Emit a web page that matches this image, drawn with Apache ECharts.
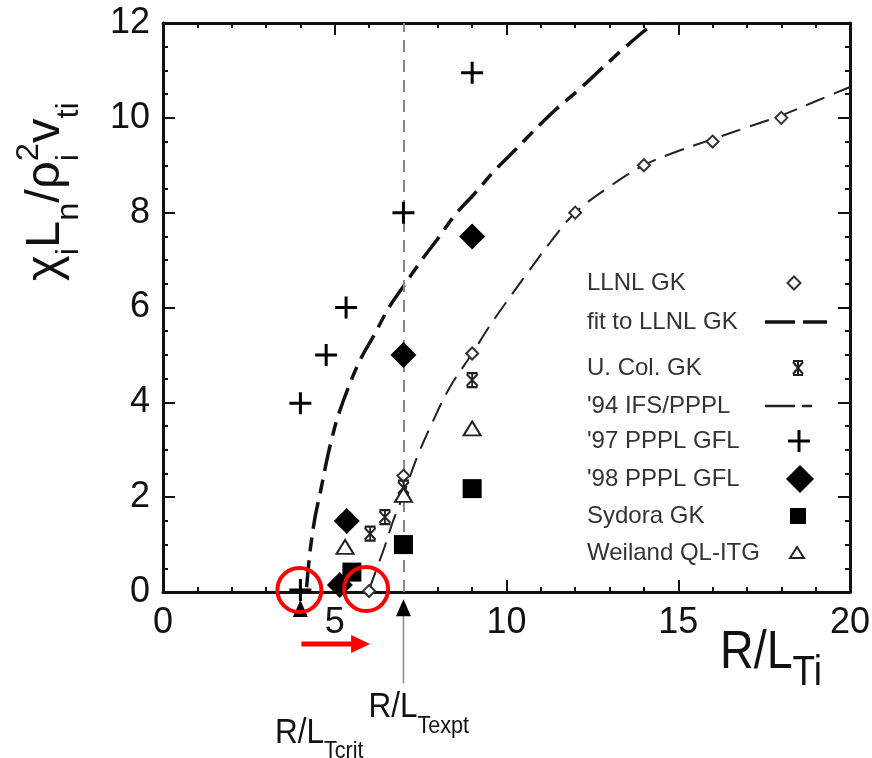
<!DOCTYPE html>
<html><head><meta charset="utf-8">
<script src="https://cdn.jsdelivr.net/npm/echarts@6/dist/echarts.min.js"></script>
<style>html,body{margin:0;padding:0;background:#fff}#c{width:872px;height:758px}</style>
</head><body><div id="c"></div>
<script>
// ---------------- data ----------------
const llnlGK    = [[6,0.02],[7,2.45],[9,5.03],[12,8.0],[14,9.0],[16,9.5],[18,10.0]];
const fitLLNL   = [[4.18,0.1],[4.28,0.85],[4.42,1.55],[4.58,2.1],[4.76,2.75],[4.92,3.25],[5.1,3.72],[5.39,4.3],[5.73,4.88],[6.17,5.45],[6.56,5.98],[7.05,6.5],[7.53,7.0],[8.01,7.46],[8.5,7.95],[9.08,8.41],[9.67,8.9],[10.25,9.32],[10.69,9.65],[11.41,10.16],[12.04,10.55],[12.67,10.97],[13.3,11.39],[13.97,11.81],[14.3,12.0]];
const uColGK    = [[6.03,1.23],[6.46,1.58],[7,2.2],[9,4.47]];
const ifsPPPL94 = [[6.0,0.05],[6.2,0.45],[6.45,0.95],[6.7,1.5],[7.0,2.05],[7.4,2.85],[7.87,3.62],[8.36,4.33],[9.0,5.03],[9.5,5.6],[10.0,6.12],[10.6,6.72],[11.3,7.4],[12.0,8.0],[13.0,8.55],[14.0,9.0],[15.0,9.3],[16.0,9.55],[17.0,9.8],[18.0,10.05],[19.0,10.35],[20.0,10.65]];
const ppplGFL97 = [[4,0.04],[4,3.98],[4.75,5.0],[5.33,6.0],[7,8.0],[9,10.95]];
const ppplGFL98 = [[5.15,0.15],[5.35,1.5],[7,5.0],[9,7.5]];
const sydoraGK  = [[5.5,0.42],[7,1.0],[9,2.18]];
const weilandQL = [[5.3,0.95],[7,2.05],[9,3.45]];
const thresholdMarks = [[4,-0.35],[7,-0.33]];   // R/L_Tcrit , R/L_Texpt pointers
const exptDrop  = [[7,-0.3],[7,-1.93]];
const exptLineX = 7;
const circledPoints = [[4,0],[6,0]];
const xRange = [0,20], xStep = 5;
const yRange = [0,12], yStep = 2;
const legendNames = ['LLNL GK','fit to LLNL GK','U. Col. GK',"'94 IFS/PPPL","'97 PPPL GFL","'98 PPPL GFL",'Sydora GK','Weiland QL-ITG'];

// ---------------- helpers ----------------
const FONT = '"Liberation Sans", Arial, sans-serif';
const cv = document.createElement('canvas').getContext('2d');
function tw(t, fs){ cv.font = fs + 'px ' + FONT; return cv.measureText(t).width; }
function textRun(id, pieces, x, y, rot, sx){
  let cx = 0; const ch = [];
  pieces.forEach(p => {
    ch.push({type:'text', x:cx, y:(p.dy||0) - 0.3465*p.fs, silent:true,
      style:{text:p.t, font:p.fs+'px '+FONT, fill:'#111', align:'left', verticalAlign:'middle', textAlign:'left', textVerticalAlign:'middle'}});
    if(!p.hold) cx += tw(p.t, p.fs);
  });
  return {type:'group', id:id, x:x, y:y, rotation:rot||0, scaleX:sx||1, children:ch};
}
function seg(x1,y1,x2,y2,color,w){ return {type:'line', shape:{x1:x1,y1:y1,x2:x2,y2:y2}, style:{stroke:color, lineWidth:w}}; }

const axisCommon = (interval, split, showLabel, pos) => ({
  type:'value', position:pos, interval:interval,
  axisLine:{show:true, onZero:false, lineStyle:{color:'#111', width:3}},
  axisTick:{show:true, inside:true, length:12, lineStyle:{color:'#111', width:2}},
  minorTick:{show:true, splitNumber:split, length:5, lineStyle:{color:'#111', width:2}},
  splitLine:{show:false},
  axisLabel:{show:showLabel, fontSize:36, fontFamily:FONT, color:'#111', margin:13}
});
const xB = Object.assign(axisCommon(xStep,5,true,'bottom'), {min:xRange[0], max:xRange[1]});
const xT = Object.assign(axisCommon(xStep,5,false,'top'), {min:xRange[0], max:xRange[1]});
const yL = Object.assign(axisCommon(yStep,4,true,'left'), {min:yRange[0], max:yRange[1]});
const yR = Object.assign(axisCommon(yStep,4,false,'right'), {min:yRange[0], max:yRange[1]});

const plusPath = 'path://M5,0L5,10M0,5L10,5';
const starPath = 'path://M0,0L10,0M0,12L10,12M5,0L5,12M0,1L10,11M0,11L10,1';

const chart = echarts.init(document.getElementById('c'), null, {renderer:'canvas'});
chart.setOption({
  animation:false,
  backgroundColor:'#fff',
  grid:{left:163, right:22, top:23, bottom:166, containLabel:false, outerBoundsMode:'none'},
  xAxis:[xB, xT],
  yAxis:[yL, yR],
  series:[
    {name:legendNames[1], type:'line', data:fitLLNL, symbol:'none', smooth:0.35, z:2,
      lineStyle:{color:'#111', width:3.5, type:[27,9,14,9]}},
    {name:legendNames[3], type:'line', data:ifsPPPL94, symbol:'none', smooth:0.35, z:2,
      lineStyle:{color:'#222', width:2, type:[20,10]}},
    {name:'thresholds', type:'scatter', data:thresholdMarks, symbol:'triangle', symbolSize:[15,17], clip:false, silent:true, z:3,
      itemStyle:{color:'#000', opacity:1},
      markLine:{silent:true, symbol:'none', label:{show:false}, lineStyle:{color:'#888', width:2, type:[12,8]}, data:[{xAxis:exptLineX}]}},
    {name:'drop', type:'line', data:exptDrop, symbol:'none', clip:false, silent:true, lineStyle:{color:'#888', width:1.5}},
    {name:legendNames[0], type:'scatter', data:llnlGK, symbol:'diamond', symbolSize:12, clip:false, z:5,
      itemStyle:{color:'#fff', borderColor:'#333', borderWidth:2, opacity:1}},
    {name:legendNames[2], type:'scatter', data:uColGK, symbol:starPath, symbolSize:[11,14], clip:false, z:5,
      itemStyle:{color:'#222', borderColor:'#222', borderWidth:2, opacity:1}},
    {name:legendNames[4], type:'scatter', data:ppplGFL97, symbol:plusPath, symbolSize:22, clip:false, z:5,
      itemStyle:{color:'#000', borderColor:'#000', borderWidth:3, opacity:1}},
    {name:legendNames[5], type:'scatter', data:ppplGFL98, symbol:'diamond', symbolSize:26, clip:false, z:5,
      itemStyle:{color:'#000', opacity:1}},
    {name:legendNames[6], type:'scatter', data:sydoraGK, symbol:'rect', symbolSize:19, clip:false, z:5,
      itemStyle:{color:'#000', opacity:1}},
    {name:legendNames[7], type:'scatter', data:weilandQL, symbol:'triangle', symbolSize:[17,14], clip:false, z:5,
      itemStyle:{color:'#fff', borderColor:'#222', borderWidth:2, opacity:1}}
  ]
});

// ---------------- legend (drawn as graphic, text left, key on the right) ----------------
const ky = [283, 322, 368, 406, 441, 479, 516, 553];
const LX = 587, KX = 798;
const leg = [];
legendNames.forEach((n, i) => {
  leg.push({type:'text', x:LX, y:ky[i], silent:true,
    style:{text:n, font:'24px '+FONT, fill:'#333', align:'left', verticalAlign:'middle', textAlign:'left', textVerticalAlign:'middle'}});
});
const dia = (cx, cy, w, h) => [[cx, cy-h/2],[cx+w/2, cy],[cx, cy+h/2],[cx-w/2, cy]];
leg.push({type:'polygon', shape:{points:dia(KX-4, ky[0], 13, 13)}, style:{fill:'#fff', stroke:'#333', lineWidth:2}});
leg.push(seg(765, ky[1], 795, ky[1], '#111', 3.5));
leg.push(seg(803, ky[1], 827, ky[1], '#111', 3.5));
// asterisk key
leg.push(seg(KX-5, ky[2]-7, KX+5, ky[2]-7, '#222', 2));
leg.push(seg(KX-5, ky[2]+7, KX+5, ky[2]+7, '#222', 2));
leg.push(seg(KX, ky[2]-7, KX, ky[2]+7, '#222', 2));
leg.push(seg(KX-5, ky[2]-6, KX+5, ky[2]+6, '#222', 2));
leg.push(seg(KX-5, ky[2]+6, KX+5, ky[2]-6, '#222', 2));
leg.push(seg(765, ky[3], 795, ky[3], '#222', 2.5));
leg.push(seg(802, ky[3], 812, ky[3], '#222', 2.5));
// plus key
leg.push(seg(KX+1, ky[4]-11, KX+1, ky[4]+11, '#000', 3));
leg.push(seg(KX-10, ky[4], KX+12, ky[4], '#000', 3));
leg.push({type:'polygon', shape:{points:dia(KX+2, ky[5], 28, 28)}, style:{fill:'#000'}});
leg.push({type:'rect', shape:{x:KX-8, y:ky[6]-8, width:16, height:16}, style:{fill:'#000'}});
leg.push({type:'polygon', shape:{points:[[KX-1, ky[7]-6],[KX+6, ky[7]+5],[KX-8, ky[7]+5]]}, style:{fill:'#fff', stroke:'#222', lineWidth:2}});

// ---------------- annotations anchored on data coordinates ----------------
const pA = chart.convertToPixel({gridIndex:0}, circledPoints[0]);
const pB = chart.convertToPixel({gridIndex:0}, circledPoints[1]);
const pE = chart.convertToPixel({gridIndex:0}, [exptLineX, 0]);
const arrowY = pA[1] + 52;
chart.setOption({
  graphic:[
    {type:'group', id:'legend', silent:true, children:leg},
    {type:'circle', shape:{cx:pA[0]-1, cy:pA[1]-2, r:22}, style:{fill:'none', stroke:'#f00', lineWidth:4}, z:100},
    {type:'circle', shape:{cx:pB[0]-3, cy:pB[1]-3, r:22}, style:{fill:'none', stroke:'#f00', lineWidth:4}, z:100},
    {type:'line', shape:{x1:pA[0]+1, y1:arrowY, x2:pB[0]-14, y2:arrowY}, style:{stroke:'#f00', lineWidth:5}, z:100},
    {type:'polygon', shape:{points:[[pB[0]-18,arrowY-9],[pB[0]+1,arrowY],[pB[0]-18,arrowY+9]]}, style:{fill:'#f00'}, z:100},
    textRun('xname', [{t:'R/L', fs:53},{t:'Ti', fs:42, dy:16}], 720, 672, 0, 0.88),
    textRun('yname', [{t:'χ',fs:48},{t:'i',fs:32,dy:18},{t:'L',fs:48},{t:'n',fs:32,dy:18},{t:'/',fs:48},{t:'ρ',fs:48},{t:'i',fs:32,dy:18,hold:true},{t:'2',fs:32,dy:-22},{t:'v',fs:48},{t:'ti',fs:32,dy:18}], 62, 281, Math.PI/2, 1.02),
    textRun('texpt', [{t:'R/L', fs:35},{t:'Texpt', fs:24, dy:16}], pE[0]-35, 719, 0, 0.9),
    textRun('tcrit', [{t:'R/L', fs:35},{t:'Tcrit', fs:24, dy:15}], 275, 745, 0, 0.9)
  ]
});
</script></body></html>
